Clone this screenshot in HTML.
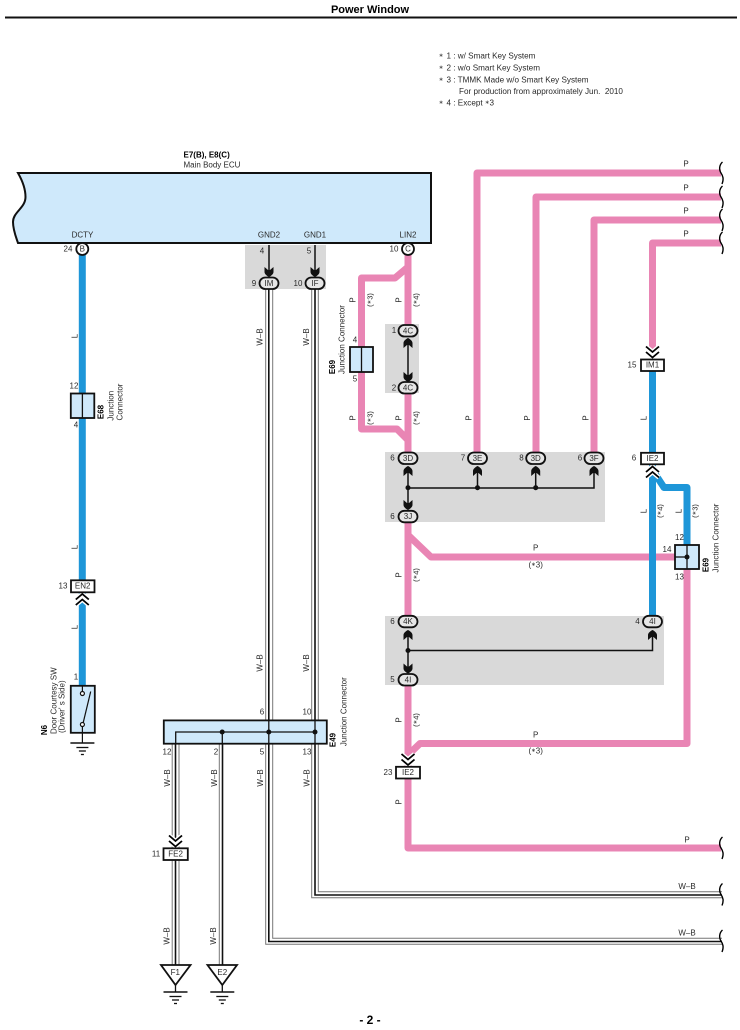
<!DOCTYPE html>
<html lang="en">
<head>
<meta charset="utf-8">
<title>Power Window</title>
<style>
html,body{margin:0;padding:0;background:#fff}
svg{display:block}
text{font-family:"Liberation Sans",Arial,sans-serif;font-size:8px;fill:#2a2a2a;text-anchor:middle;dominant-baseline:central;white-space:pre}
.s{text-anchor:start}
.n{font-size:8.15px}
.b{font-weight:bold;fill:#000}
.r{font-size:7.5px}
.t{font-size:5.5px}
</style>
</head>
<body>
<svg xmlns="http://www.w3.org/2000/svg" width="740" height="1030" viewBox="0 0 740 1030">
<defs>
<path id="sd" d="M0,0 C-2,-1 -4.5,-3 -4.5,-5 L-4.5,-10 L-1,-7 L1,-7 L4.5,-10 L4.5,-5 C4.5,-3 2,-1 0,0 Z" fill="#111"/>
<g id="chev" fill="none">
<path d="M-6.5,-5.5 L0,0 L6.5,-5.5 M-6.5,0 L0,5.5 L6.5,0" stroke="#fff" stroke-width="4.5"/>
<path d="M-6.5,-5.5 L0,0 L6.5,-5.5 M-6.5,0 L0,5.5 L6.5,0" stroke="#000" stroke-width="1.8"/>
</g>
<path id="sq" d="M2.5,-11 C-1,-8 -1,-3 1,0 C3,3 4,6 2,11" fill="none" stroke="#000" stroke-width="1.4"/>
<g id="gnd" stroke="#111" fill="none">
<path d="M-12,0 H12" stroke-width="1.4"/><path d="M-6,4.5 H6" stroke-width="1.3"/><path d="M-3.5,8 H3.5" stroke-width="1.3"/><path d="M-1.5,11.5 H1.5" stroke-width="1.3"/>
</g>
</defs>

<!-- header -->
<text x="370" y="10" class="b" style="font-size:11px">Power Window</text>
<rect x="5" y="16.5" width="732" height="2" fill="#111"/>

<!-- notes -->
<text x="441" y="56" class="t">∗</text><text x="446.5" y="56" class="s n">1 : w/ Smart Key System</text>
<text x="441" y="68" class="t">∗</text><text x="446.5" y="68" class="s n">2 : w/o Smart Key System</text>
<text x="441" y="80" class="t">∗</text><text x="446.5" y="80" class="s n">3 : TMMK Made w/o Smart Key System</text>
<text x="459" y="91.5" class="s n">For production from approximately Jun.  2010</text>
<text x="441" y="103" class="t">∗</text><text x="446.5" y="103" class="s n">4 : Except <tspan class="t">∗</tspan>3</text>

<!-- gray boxes -->
<g fill="#d9d9d9">
<rect x="245" y="245" width="81" height="44"/>
<rect x="385" y="324" width="34" height="69"/>
<rect x="385" y="452" width="220" height="70"/>
<rect x="385" y="616" width="279" height="69"/>
</g>

<!-- ECU -->
<text x="183.5" y="155" class="s b">E7(B), E8(C)</text>
<text x="183.5" y="165" class="s">Main Body ECU</text>
<path d="M18,173 H431 V243 H18 C16,237 13,230 13,222 C13,212 25.5,208 25.5,197 C25.5,188 22,180 18,173 Z" fill="#cfe9fb" stroke="#111" stroke-width="2"/>
<text x="82.5" y="235">DCTY</text>
<text x="269" y="235">GND2</text>
<text x="315" y="235">GND1</text>
<text x="408" y="235">LIN2</text>

<!-- pink wires -->
<g fill="none" stroke="#e985b4" stroke-width="7" stroke-linejoin="round">
<path d="M721,173 H477 V452"/>
<path d="M721,197 H536 V452"/>
<path d="M721,220 H594 V452"/>
<path d="M721,243 H652.5 V352"/>
<path d="M408,255 V325"/>
<path d="M408,267 L395,278 H361.5 V429 H397 L408,440"/>
<path d="M408,393 V452"/>
<path d="M408,520 V616"/>
<path d="M408,535 L431,557 H675"/>
<path d="M408,685 V848 H721"/>
<path d="M687,569 V743.5 H420 L408,755"/>
</g>

<!-- blue wires -->
<g fill="none" stroke="#1e96d8" stroke-width="7" stroke-linejoin="round">
<path d="M82.3,255 V685"/>
<path d="M652.5,371 V616"/>
<path d="M652.5,470 L664,487.5 H687 V545"/>
</g>

<!-- W-B wires -->
<g fill="none" stroke="#777" stroke-width="1">
<path d="M265.7,289 V944.3 H722"/>
<path d="M272.7,289 V938.3 H722"/>
<path d="M311.7,289 V897.7 H722"/>
<path d="M318.3,289 V891.7 H722"/>
<path d="M172.2,743 V965"/>
<path d="M179,743 V965"/>
<path d="M219.3,743 V965"/>
</g>
<g fill="none" stroke="#111" stroke-width="1.6">
<path d="M268.8,289 V941.5 H722"/>
<path d="M315,289 V895 H722"/>
<path d="M175.5,732 V965"/>
<path d="M222.5,732 V965"/>
</g>

<!-- squiggles -->
<use href="#sq" x="720" y="173"/><use href="#sq" x="720" y="197"/><use href="#sq" x="720" y="220"/><use href="#sq" x="720" y="243"/>
<use href="#sq" x="720" y="848"/><use href="#sq" x="720" y="894.5"/><use href="#sq" x="720" y="941"/>

<!-- inner black lines in gray boxes -->
<g stroke="#111" stroke-width="1.5" fill="none">
<path d="M269,245 V272"/><path d="M315,245 V272"/>
<path d="M408,340 V381"/>
<path d="M408,470 V505"/><path d="M477.5,470 V488"/><path d="M535.7,470 V488"/><path d="M594,470 V488 H408"/>
<path d="M408,632 V668"/><path d="M652.5,632 V650.5 H408"/>
</g>
<g fill="#111">
<circle cx="408" cy="487.7" r="2.5"/><circle cx="477.5" cy="487.7" r="2.5"/><circle cx="535.7" cy="487.7" r="2.5"/>
<circle cx="408" cy="650.5" r="2.5"/>
</g>

<!-- spade arrows -->
<use href="#sd" transform="translate(269,277)"/>
<use href="#sd" transform="translate(315,277)"/>
<use href="#sd" transform="translate(408,382)"/>
<use href="#sd" transform="translate(408,338) rotate(180)"/>
<use href="#sd" transform="translate(408,466) rotate(180)"/>
<use href="#sd" transform="translate(477.5,466) rotate(180)"/>
<use href="#sd" transform="translate(535.7,466) rotate(180)"/>
<use href="#sd" transform="translate(594,466) rotate(180)"/>
<use href="#sd" transform="translate(408,510)"/>
<use href="#sd" transform="translate(408,630) rotate(180)"/>
<use href="#sd" transform="translate(652.5,630) rotate(180)"/>
<use href="#sd" transform="translate(408,673.5)"/>

<!-- chevrons -->
<use href="#chev" transform="translate(652.5,352)"/>
<use href="#chev" transform="translate(652.5,472) rotate(180)"/>
<use href="#chev" transform="translate(82.3,599.5) rotate(180)"/>
<use href="#chev" transform="translate(408,759.5)"/>
<use href="#chev" transform="translate(175.5,841)"/>

<!-- circles C, B -->
<circle cx="82.3" cy="249" r="6" fill="#fff" stroke="#111" stroke-width="1.8"/>
<circle cx="408" cy="249" r="6" fill="#fff" stroke="#111" stroke-width="1.8"/>
<text x="82.3" y="249">B</text><text x="408" y="249">C</text>
<text x="68" y="249">24</text><text x="394" y="249">10</text>

<!-- ovals -->
<g fill="#e6e6e6" stroke="#111" stroke-width="1.8">
<rect x="259.5" y="277.5" width="19" height="11.5" rx="5.75"/>
<rect x="305.5" y="277.5" width="19" height="11.5" rx="5.75"/>
<rect x="398.5" y="325" width="19" height="11.5" rx="5.75"/>
<rect x="398.5" y="382" width="19" height="11.5" rx="5.75"/>
<rect x="398.5" y="452.5" width="19" height="11.5" rx="5.75"/>
<rect x="468" y="452.5" width="19" height="11.5" rx="5.75"/>
<rect x="526.2" y="452.5" width="19" height="11.5" rx="5.75"/>
<rect x="584.5" y="452.5" width="19" height="11.5" rx="5.75"/>
<rect x="398.5" y="510.8" width="19" height="11.5" rx="5.75"/>
<rect x="398.5" y="615.8" width="19" height="11.5" rx="5.75"/>
<rect x="643" y="615.8" width="19" height="11.5" rx="5.75"/>
<rect x="398.5" y="674" width="19" height="11.5" rx="5.75"/>
</g>
<text x="269" y="283.5">IM</text><text x="315" y="283.5">IF</text>
<text x="408" y="330.8">4C</text><text x="408" y="387.8">4C</text>
<text x="408" y="458.3">3D</text><text x="477.5" y="458.3">3E</text><text x="535.7" y="458.3">3D</text><text x="594" y="458.3">3F</text>
<text x="408" y="516.5">3J</text>
<text x="408" y="621.5">4K</text><text x="652.5" y="621.5">4I</text><text x="408" y="679.8">4I</text>

<!-- rect connectors -->
<g fill="#fff" stroke="#111" stroke-width="1.8">
<rect x="641" y="359.5" width="23" height="11.5"/>
<rect x="641" y="452.8" width="23" height="11.5"/>
<rect x="71" y="580.3" width="23.5" height="12"/>
<rect x="396" y="766.8" width="24" height="11.7"/>
<rect x="163.5" y="848.3" width="24.3" height="11.7"/>
</g>
<text x="652.5" y="365">IM1</text><text x="652.5" y="458.5">IE2</text>
<text x="82.7" y="586">EN2</text><text x="408" y="772.5">IE2</text><text x="175.6" y="854">FE2</text>

<!-- junction boxes -->
<g fill="#cfe9fb" stroke="#111" stroke-width="1.8">
<rect x="350" y="347" width="23" height="25"/>
<rect x="70.8" y="393.5" width="23.5" height="24.5"/>
<rect x="675" y="545" width="24" height="24"/>
<rect x="70.8" y="685.8" width="24" height="47"/>
<rect x="163.8" y="720.4" width="163" height="23.3"/>
</g>
<g stroke="#111" stroke-width="1.3" fill="none">
<path d="M361.5,347 V372"/><path d="M82.4,393.5 V418"/><path d="M687,545 V569"/><path d="M675,557 H687"/>
<path d="M175.7,744 V732 H315"/>
<path d="M268.8,720.4 V743.7"/><path d="M315,720.4 V743.7"/><path d="M222.3,732 V743.7"/>
</g>
<circle cx="687" cy="557" r="2.5" fill="#111"/>
<circle cx="222.2" cy="732" r="2.5" fill="#111"/><circle cx="268.8" cy="732" r="2.5" fill="#111"/><circle cx="315" cy="732" r="2.5" fill="#111"/>

<!-- switch -->
<g stroke="#111" stroke-width="1.2" fill="none">
<path d="M82.4,685.8 V691.5"/>
<path d="M83.2,722.7 L90.7,691.5"/>
<path d="M82.4,726.5 V743"/>
<circle cx="82.4" cy="693.5" r="2" fill="#fff"/>
<circle cx="82.4" cy="724.5" r="2" fill="#fff"/>
</g>
<use href="#gnd" x="82.4" y="743"/>

<!-- grounds -->
<path d="M161,965 H190.5 L175.5,985 Z" fill="#fff" stroke="#111" stroke-width="1.8"/>
<path d="M207.5,965 H237 L222.3,985 Z" fill="#fff" stroke="#111" stroke-width="1.8"/>
<path d="M175.5,985 V992 M222.3,985 V992" stroke="#111" stroke-width="1.3"/>
<use href="#gnd" x="175.5" y="992"/><use href="#gnd" x="222.3" y="992"/>
<text x="175.3" y="972.5">F1</text><text x="222.3" y="972.5">E2</text>

<!-- pin numbers -->
<text x="262" y="251">4</text><text x="309" y="251">5</text>
<text x="254" y="283.5">9</text><text x="298" y="283.5">10</text>
<text x="355" y="340">4</text><text x="355" y="379">5</text>
<text x="394" y="330.5">1</text><text x="394" y="388">2</text>
<text x="392.5" y="458">6</text><text x="463" y="458">7</text><text x="521.5" y="458">8</text><text x="580" y="458">6</text>
<text x="392.5" y="516.5">6</text><text x="392.5" y="621.5">6</text><text x="392.5" y="679.5">5</text><text x="637.5" y="621.5">4</text>
<text x="634" y="458">6</text><text x="632" y="365">15</text>
<text x="679.5" y="537.7">12</text><text x="667" y="549.3">14</text><text x="679.5" y="577">13</text>
<text x="388" y="772.5">23</text>
<text x="74" y="386">12</text><text x="76" y="425">4</text><text x="63" y="586">13</text><text x="76" y="677">1</text>
<text x="262" y="712">6</text><text x="307" y="712">10</text>
<text x="167" y="752">12</text><text x="216" y="752">2</text><text x="262" y="752">5</text><text x="307" y="752">13</text>
<text x="156" y="854">11</text>

<!-- horizontal wire labels -->
<text x="686" y="164">P</text><text x="686" y="188">P</text><text x="686" y="211">P</text><text x="686" y="234">P</text>
<text x="535.7" y="548">P</text><text x="535.7" y="565">(<tspan class="t">∗</tspan>3)</text>
<text x="535.7" y="735">P</text><text x="535.7" y="751">(<tspan class="t">∗</tspan>3)</text>
<text x="687" y="840">P</text><text x="687" y="886.7">W–B</text><text x="687" y="933">W–B</text>

<!-- vertical wire labels -->
<g>
<text transform="translate(353,300) rotate(-90)">P</text>
<text class="r" transform="translate(370,300) rotate(-90)">(<tspan class="t">∗</tspan>3)</text>
<text transform="translate(399,300) rotate(-90)">P</text>
<text class="r" transform="translate(416,300) rotate(-90)">(<tspan class="t">∗</tspan>4)</text>
<text transform="translate(353,418) rotate(-90)">P</text>
<text class="r" transform="translate(370,418) rotate(-90)">(<tspan class="t">∗</tspan>3)</text>
<text transform="translate(399,418) rotate(-90)">P</text>
<text class="r" transform="translate(416,418) rotate(-90)">(<tspan class="t">∗</tspan>4)</text>
<text transform="translate(469,418) rotate(-90)">P</text>
<text transform="translate(527.5,418) rotate(-90)">P</text>
<text transform="translate(586,418) rotate(-90)">P</text>
<text transform="translate(399,575) rotate(-90)">P</text>
<text class="r" transform="translate(416,575) rotate(-90)">(<tspan class="t">∗</tspan>4)</text>
<text transform="translate(399,720) rotate(-90)">P</text>
<text class="r" transform="translate(416,720) rotate(-90)">(<tspan class="t">∗</tspan>4)</text>
<text transform="translate(399,802) rotate(-90)">P</text>
<text transform="translate(644,511) rotate(-90)">L</text>
<text class="r" transform="translate(660,511) rotate(-90)">(<tspan class="t">∗</tspan>4)</text>
<text transform="translate(679,511) rotate(-90)">L</text>
<text class="r" transform="translate(695,511) rotate(-90)">(<tspan class="t">∗</tspan>3)</text>
<text transform="translate(644,418) rotate(-90)">L</text>
<text transform="translate(75,336) rotate(-90)">L</text>
<text transform="translate(75,547) rotate(-90)">L</text>
<text transform="translate(75,627) rotate(-90)">L</text>
<text transform="translate(260,337) rotate(-90)">W–B</text>
<text transform="translate(306.7,337) rotate(-90)">W–B</text>
<text transform="translate(260,663) rotate(-90)">W–B</text>
<text transform="translate(306.7,663) rotate(-90)">W–B</text>
<text transform="translate(167.5,778) rotate(-90)">W–B</text>
<text transform="translate(214.5,778) rotate(-90)">W–B</text>
<text transform="translate(260.5,778) rotate(-90)">W–B</text>
<text transform="translate(307,778) rotate(-90)">W–B</text>
<text transform="translate(167,936) rotate(-90)">W–B</text>
<text transform="translate(213.5,936) rotate(-90)">W–B</text>
</g>

<!-- component labels -->
<text class="b" transform="translate(332.7,367) rotate(-90)">E69</text>
<text transform="translate(342,339.5) rotate(-90)">Junction Connector</text>
<text class="b" transform="translate(706,565) rotate(-90)">E69</text>
<text transform="translate(716,538) rotate(-90)">Junction Connector</text>
<text class="b" transform="translate(101,412) rotate(-90)">E68</text>
<text transform="translate(111,405.7) rotate(-90)">Junction</text>
<text transform="translate(120,402) rotate(-90)">Connector</text>
<text class="b" transform="translate(44.7,730) rotate(-90)">N6</text>
<text transform="translate(54,700.7) rotate(-90)">Door Courtesy SW</text>
<text transform="translate(62,706.7) rotate(-90)">(Driver' s Side)</text>
<text class="b" transform="translate(333,740) rotate(-90)">E49</text>
<text transform="translate(344,711.7) rotate(-90)">Junction Connector</text>

<text x="370" y="1020" class="b" style="font-size:12px">- 2 -</text>
</svg>
</body>
</html>
